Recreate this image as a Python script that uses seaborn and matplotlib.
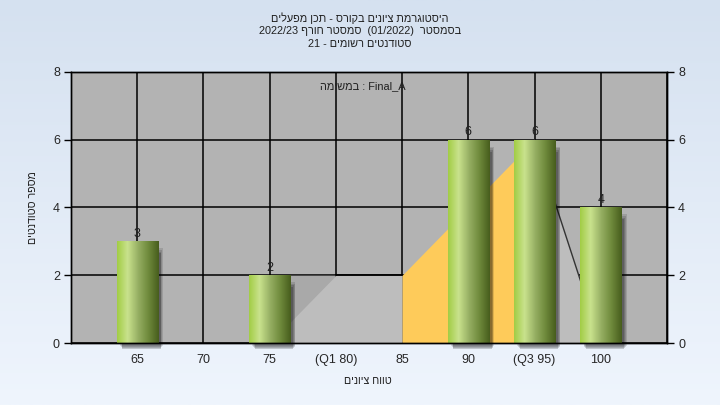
import re
import numpy as np
import matplotlib
matplotlib.use("Agg")
import matplotlib.pyplot as plt
from matplotlib.colors import LinearSegmentedColormap
from matplotlib.patches import Rectangle
import seaborn as sns

# ---- data ----
grades = ['65', '70', '75', '(Q1 80)', '85', '90', '(Q3 95)', '100']
counts = [3, 0, 2, 0, 0, 6, 6, 4]

# background area series
curve_grades = ['75', '(Q1 80)', '85', '90', '(Q3 95)', '100']
curve_vals = [0, 2, 2, 4, 6, 0]

y_ticks = [0, 2, 4, 6, 8]

title_lines = ['היסטוגרמת ציונים בקורס - תכן מפעלים',
               'בסמסטר  (01/2022)  סמסטר חורף 2022/23',
               'סטודנטים רשומים - 21']
task_label = 'Final_A : במשימה'
x_title = 'טווח ציונים'
y_title = 'מספר סטודנטים'


def heb(s):
    # matplotlib has no bidi: turn logical order into visual order
    r = s[::-1]
    r = re.sub(r'[A-Za-z0-9_/.]+', lambda m: m.group(0)[::-1], r)
    return r.translate(str.maketrans('()', ')('))


sns.set_style('white')
plt.rcParams['font.family'] = ['Liberation Sans', 'DejaVu Sans']
plt.rcParams['font.size'] = 9

fig = plt.figure(figsize=(7.2, 4.05), dpi=100)

# figure background gradient
bg = fig.add_axes([0, 0, 1, 1], zorder=-10)
bg_cmap = LinearSegmentedColormap.from_list('bg', ['#d5e1f0', '#eff5fd'])
bg.imshow(np.linspace(0, 1, 256)[:, None], aspect='auto', cmap=bg_cmap,
          extent=[0, 1, 0, 1])
bg.axis('off')

ax = fig.add_axes([71 / 720, 62 / 405, 596 / 720, 271 / 405])
ax.set_facecolor('#b3b3b3')

sns.barplot(x=grades, y=counts, order=grades, width=0.62, color='#9fcb3f',
            linewidth=0, ax=ax, zorder=3)
bars = [p for p in ax.patches]

# area behind the bars
cx = np.array([grades.index(g) for g in curve_grades], dtype=float)
cy = np.array(curve_vals, dtype=float)
ax.fill_between(cx[0:3], cy[0:3], color='#bdbdbd', lw=0, zorder=1)
ax.fill_between(cx[0:2], cy[0:2], cy[1], color='#a9a9a9', lw=0, zorder=1)
ax.fill_between(cx[2:5], cy[2:5], color='#fecb5a', lw=0, zorder=1)
ax.fill_between(cx[4:6], cy[4:6], color='#bdbdbd', lw=0, zorder=1)
ax.plot(cx[1:3], cy[1:3], color='black', lw=1.2, zorder=1.5)
ax.plot(cx[4:6], cy[4:6], color='#333333', lw=1.0, zorder=1.5)

# cylinder-ish gradient + soft shadow on the bars
bar_cmap = LinearSegmentedColormap.from_list(
    'bar', ['#a2cd45', '#c9e28d', '#97b064', '#6f8a3c', '#475d1d'],)
grad = np.linspace(0, 1, 128)[None, :]
for p in bars:
    x, w, h = p.get_x(), p.get_width(), p.get_height()
    if h <= 0:
        continue
    for k, a in enumerate([0.12, 0.13, 0.15, 0.18]):
        ax.add_patch(Rectangle((x + 0.05 + 0.012 * k, -0.1 - 0.03 * k),
                               w + 0.03 - 0.024 * k, h - 0.1 - 0.02 * k,
                               color='black', alpha=a, lw=0, zorder=2.5,
                               clip_on=False))
    im = ax.imshow(grad, extent=[x, x + w, 0, h], aspect='auto',
                   cmap=bar_cmap, zorder=4)
    im.set_clip_path(p)

labels = [str(c) if c > 0 else '' for c in counts]
ax.bar_label(ax.containers[0], labels=labels, padding=1, fontsize=9,
             color='#202020', zorder=6)

ax.set_xlim(-1, len(grades))
ax.set_ylim(0, 8)
ax.set_xticks(range(-1, len(grades) + 1))
ax.set_xticklabels([''] + grades + [''])
ax.set_yticks(y_ticks)
ax.set_axisbelow(True)
ax.grid(True, color='black', linewidth=1.1)
ax.set_xlabel('')
ax.set_ylabel('')
ax.tick_params(axis='both', direction='out', length=5, width=1,
               color='black', labelsize=9, pad=3)
for s in ax.spines.values():
    s.set_color('black')
    s.set_linewidth(1)
    s.set_zorder(8)

ax2 = ax.twinx()
ax2.set_ylim(0, 8)
ax2.set_yticks(y_ticks)
ax2.tick_params(axis='y', direction='out', length=5, width=1,
                color='black', labelsize=9, pad=3)
for s in ax2.spines.values():
    s.set_color('black')
    s.set_linewidth(1)

ax.text(0.49, 0.948, heb(task_label), transform=ax.transAxes,
        ha='center', va='center', fontsize=7.9, color='#202020', zorder=7)

for i, line in enumerate(title_lines):
    fig.text(0.5, 1 - (18 + 13 * i) / 405, heb(line), ha='center',
             va='center', fontsize=7.8, color='#202020')

fig.text(368 / 720, 1 - 381 / 405, heb(x_title), ha='center', va='center',
         fontsize=7.7, color='#202020')
fig.text(33 / 720, 1 - 208 / 405, heb(y_title), ha='center', va='center',
         rotation=90, fontsize=7.7, color='#202020')

fig.savefig('out.png', dpi=100)
